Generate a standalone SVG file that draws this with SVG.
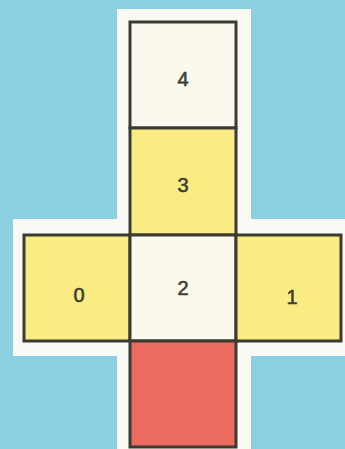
<svg xmlns="http://www.w3.org/2000/svg" width="345" height="449" viewBox="0 0 345 449">
<style>
.cell{stroke:#3b3a33;stroke-width:3}
.w{fill:#fbf8ee}
.y{fill:#f8ec82}
.r{fill:#ec6a5f}
.t{font-family:"Liberation Sans",Arial,sans-serif;font-size:20px;fill:#3f3e38;stroke:#3f3e38;stroke-width:0.6;text-anchor:middle;dominant-baseline:central}
</style>
<rect width="345" height="449" fill="#8bcfe0"/>
<path d="M117 9 H251 V219 H345 V356 H251 V449 H117 V356 H13 V219 H117 Z" fill="#fbf9f3"/>
<g id="cell4"><rect class="cell w" x="130" y="22" width="106" height="106"/><text class="t" x="183" y="79">4</text></g>
<g id="cell3"><rect class="cell y" x="130" y="128" width="106" height="107"/><text class="t" x="183" y="185">3</text></g>
<g id="cell0"><rect class="cell y" x="24" y="235" width="106" height="106"/><text class="t" x="79" y="295">0</text></g>
<g id="cell2"><rect class="cell w" x="130" y="235" width="106" height="106"/><text class="t" x="183" y="288">2</text></g>
<g id="cell1"><rect class="cell y" x="236" y="235" width="105" height="106"/><text class="t" x="292" y="297">1</text></g>
<g id="cell5"><rect class="cell r" x="130" y="341" width="106" height="106"/></g>
</svg>
